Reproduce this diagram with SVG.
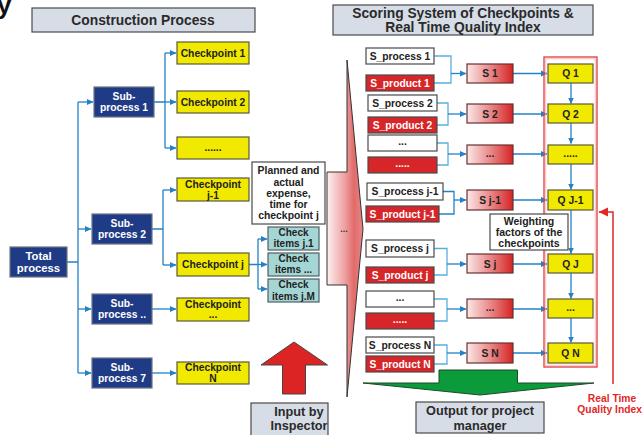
<svg xmlns="http://www.w3.org/2000/svg" width="643" height="435" viewBox="0 0 643 435">
<style>
text{font-family:"Liberation Sans",Arial,sans-serif;font-weight:bold;text-anchor:middle}
.hdr{fill:#d6dde6;stroke:#4a4a4a;stroke-width:1.2}
.hdrt{font-size:13.8px;fill:#2a2a2a}
.navy{fill:#1f3b86;stroke:#6b7480;stroke-width:1.2}
.navyt{font-size:10.3px;fill:#ffffff}
.yel{fill:#f1e900;stroke:#5a5a3a;stroke-width:1.2}
.yelt{font-size:10.3px;fill:#222}
.teal{fill:#a5d6d6;stroke:#4f5f66;stroke-width:1.2}
.tealt{font-size:10px;fill:#222}
.wht{fill:#ffffff;stroke:#4a4a4a;stroke-width:1.2}
.whtt{font-size:10.3px;fill:#222}
.red{fill:#d7262a;stroke:#4a4a4a;stroke-width:1.2}
.redt{font-size:10.3px;fill:#ffffff}
.sbox{fill:url(#sg);stroke:#6a3030;stroke-width:1.2}
.line{fill:none;stroke:#2481c6;stroke-width:1.3}
.brk{fill:none;stroke:#5aaee0;stroke-width:1.3}
.arr{fill:none;stroke:#2481c6;stroke-width:1.3;marker-end:url(#ab)}
</style>
<defs>
<marker id="ab" markerUnits="userSpaceOnUse" markerWidth="7" markerHeight="7" refX="6" refY="3.5" orient="auto"><path d="M0,0.5 L6.5,3.5 L0,6.5 Z" fill="#2481c6"/></marker>
<marker id="ar" markerUnits="userSpaceOnUse" markerWidth="10" markerHeight="10" refX="9" refY="5" orient="auto"><path d="M0,0.5 L9.5,5 L0,9.5 Z" fill="#e02828"/></marker>
<linearGradient id="sg" x1="0" y1="0" x2="1" y2="0"><stop offset="0" stop-color="#fbe8e8"/><stop offset="0.55" stop-color="#e88080"/><stop offset="1" stop-color="#d42424"/></linearGradient>
<linearGradient id="fg" x1="327" y1="0" x2="363" y2="0" gradientUnits="userSpaceOnUse"><stop offset="0" stop-color="#fdf0f0"/><stop offset="0.5" stop-color="#eea0a0"/><stop offset="0.75" stop-color="#e26a6a"/><stop offset="1" stop-color="#e88888"/></linearGradient>
</defs>

<text x="-3" y="14" style="font-size:26px;fill:#111;text-anchor:start">y</text>

<g id="hdr-construction"><rect class="hdr" x="32" y="8" width="223" height="24"/><text class="hdrt" x="143" y="24.5">Construction Process</text></g>
<g id="hdr-scoring"><rect class="hdr" x="333" y="5" width="260" height="30"/><text class="hdrt" x="463" y="17.5">Scoring System of Checkpoints &amp;</text><text class="hdrt" x="463" y="32">Real Time Quality Index</text></g>

<g id="connectors">
<path class="line" d="M67,262 H78 M78,102 V373"/>
<path class="arr" d="M78,102 H93"/>
<path class="arr" d="M78,229 H91"/>
<path class="arr" d="M78,309 H91"/>
<path class="arr" d="M78,373 H91"/>
<path class="line" d="M154,102 H165 M165,53 V148"/>
<path class="arr" d="M165,53 H176"/>
<path class="arr" d="M165,102 H176"/>
<path class="arr" d="M165,148 H176"/>
<path class="line" d="M152,229 H163 M163,190 V265"/>
<path class="arr" d="M163,190 H176"/>
<path class="arr" d="M163,265 H176"/>
<path class="arr" d="M152,309 H176"/>
<path class="arr" d="M152,373 H176"/>
<path class="line" d="M249,264.5 H258 M258,239 V289"/>
<path class="arr" d="M258,239 H267"/>
<path class="arr" d="M258,264.5 H267"/>
<path class="arr" d="M258,289 H267"/>

<path class="brk" d="M434,56 H451 V83 H434"/>
<path class="arr" d="M451,73.5 H466"/>
<path class="brk" d="M437,103 H448 V125 H437"/>
<path class="arr" d="M448,114 H466"/>
<path class="brk" d="M437,143 H448 V165 H437"/>
<path class="arr" d="M448,154 H466"/>
<path class="line" d="M443,191.5 H454 V214 H439"/>
<path class="arr" d="M454,200 H466"/>
<path class="brk" d="M434,248.5 H447 V275 H434"/>
<path class="arr" d="M447,264 H466"/>
<path class="brk" d="M434,299 H447 V321 H434"/>
<path class="arr" d="M447,309 H466"/>
<path class="brk" d="M434,345 H447 V364 H434"/>
<path class="arr" d="M447,353 H466"/>

<path class="arr" d="M513,73.5 H547"/>
<path class="arr" d="M513,114 H547"/>
<path class="arr" d="M513,154 H547"/>
<path class="arr" d="M513,200 H547"/>
<path class="arr" d="M513,264 H547"/>
<path class="arr" d="M513,309 H547"/>
<path class="arr" d="M513,353 H547"/>

<path class="arr" d="M571,83 V103.5"/>
<path class="arr" d="M571,123 V143.5"/>
<path class="arr" d="M571,164 V189.5"/>
<path class="arr" d="M571,210 V253.5"/>
<path class="arr" d="M571,273 V298.5"/>
<path class="arr" d="M571,318 V342.5"/>

<path d="M613,384 V212 H599" fill="none" stroke="#e02828" stroke-width="1.5" marker-end="url(#ar)"/>
</g>

<g id="funnel"><path d="M327,172 H347 V60 L363,229 L347,397 V285 H327 Z" fill="url(#fg)" stroke="#333" stroke-width="1"/><text x="344" y="232" style="font-size:9px;fill:#333">...</text></g>

<g id="q-frame"><rect x="544" y="57" width="53" height="310" fill="none" stroke="#e03a3a" stroke-width="1.3"/><rect x="545.8" y="58.8" width="49.4" height="306.4" fill="none" stroke="#f4b0b0" stroke-width="0.8"/></g>

<g id="total"><rect class="navy" x="10" y="247" width="57" height="30"/><text class="navyt" style="font-size:11.3px" x="38.5" y="259.5">Total</text><text class="navyt" style="font-size:11.3px" x="38.5" y="271.5">process</text></g>
<g id="sub1"><rect class="navy" x="94" y="87" width="60" height="30"/><text class="navyt" x="124" y="99.5">Sub-</text><text class="navyt" x="124" y="111">process 1</text></g>
<g id="sub2"><rect class="navy" x="92" y="214" width="60" height="30"/><text class="navyt" x="122" y="226.5">Sub-</text><text class="navyt" x="122" y="238">process 2</text></g>
<g id="subdots"><rect class="navy" x="92" y="294" width="60" height="30"/><text class="navyt" x="122" y="306.5">Sub-</text><text class="navyt" x="122" y="318">process ..</text></g>
<g id="sub7"><rect class="navy" x="92" y="358" width="60" height="30"/><text class="navyt" x="122" y="370.5">Sub-</text><text class="navyt" x="122" y="382">process 7</text></g>

<g id="cp1"><rect class="yel" x="177" y="42" width="72" height="22"/><text class="yelt" x="213" y="56.5">Checkpoint 1</text></g>
<g id="cp2"><rect class="yel" x="177" y="91" width="72" height="22"/><text class="yelt" x="213" y="105.5">Checkpoint 2</text></g>
<g id="cpdots"><rect class="yel" x="177" y="137" width="72" height="22"/><text class="yelt" x="213" y="151">......</text></g>
<g id="cpj1"><rect class="yel" x="177" y="178" width="72" height="23"/><text class="yelt" x="213" y="187.5">Checkpoint</text><text class="yelt" x="213" y="198.5">j-1</text></g>
<g id="cpj"><rect class="yel" x="177" y="253" width="72" height="23"/><text class="yelt" x="213" y="268">Checkpoint j</text></g>
<g id="cpdots2"><rect class="yel" x="177" y="298" width="72" height="23"/><text class="yelt" x="213" y="307.5">Checkpoint</text><text class="yelt" x="213" y="318">...</text></g>
<g id="cpN"><rect class="yel" x="177" y="362" width="72" height="22"/><text class="yelt" x="213" y="371">Checkpoint</text><text class="yelt" x="213" y="382">N</text></g>

<g id="planned"><rect class="wht" x="252" y="162" width="73" height="62"/>
<text class="whtt" style="font-size:10.4px" x="288.5" y="173.7">Planned and</text>
<text class="whtt" style="font-size:10.4px" x="288.5" y="185.5">actual</text>
<text class="whtt" style="font-size:10.4px" x="288.5" y="197">expense,</text>
<text class="whtt" style="font-size:10.4px" x="288.5" y="208">time for</text>
<text class="whtt" style="font-size:10.4px" x="288.5" y="219.4">checkpoint j</text></g>

<g id="ci1"><rect class="teal" x="268" y="227" width="51" height="23"/><text class="tealt" x="293.5" y="236">Check</text><text class="tealt" x="293.5" y="247">items j.1</text></g>
<g id="ci2"><rect class="teal" x="268" y="253" width="51" height="23"/><text class="tealt" x="293.5" y="262">Check</text><text class="tealt" x="293.5" y="273">items ...</text></g>
<g id="ci3"><rect class="teal" x="268" y="279" width="51" height="23"/><text class="tealt" x="293.5" y="288">Check</text><text class="tealt" x="293.5" y="299.5">items j.M</text></g>

<g id="input-arrow"><path d="M294,342 L327.5,365 H305.5 V394 H282.5 V365 H261 Z" fill="#dc2424" stroke="#444" stroke-width="1"/></g>
<g id="input"><rect class="hdr" x="251" y="403" width="77" height="34"/><text class="hdrt" style="font-size:12.7px" x="299" y="416">Input by</text><text class="hdrt" style="font-size:12.7px" x="299" y="429.5">Inspector</text></g>

<g id="sp1"><rect class="wht" x="366" y="48" width="68" height="16"/><text class="whtt" x="400" y="59.6">S_process 1</text></g>
<g id="sd1"><rect class="red" x="366" y="75" width="68" height="16"/><text class="redt" x="400" y="86.6">S_product 1</text></g>
<g id="sp2"><rect class="wht" x="368" y="95" width="69" height="16"/><text class="whtt" x="402.5" y="106.6">S_process 2</text></g>
<g id="sd2"><rect class="red" x="368" y="117" width="69" height="16"/><text class="redt" x="402.5" y="128.6">S_product 2</text></g>
<g id="sp3"><rect class="wht" x="368" y="135" width="69" height="16"/><text class="whtt" x="402.5" y="145">...</text></g>
<g id="sd3"><rect class="red" x="368" y="157" width="69" height="16"/><text class="redt" x="402.5" y="167">.....</text></g>
<g id="sp4"><rect class="wht" x="367" y="183" width="76" height="17"/><text class="whtt" x="405" y="195.2">S_process j-1</text></g>
<g id="sd4"><rect class="red" x="366" y="206" width="73" height="16"/><text class="redt" x="402.5" y="217.6">S_product j-1</text></g>
<g id="sp5"><rect class="wht" x="366" y="240" width="68" height="17"/><text class="whtt" x="400" y="252.2">S_process j</text></g>
<g id="sd5"><rect class="red" x="366" y="267" width="68" height="16"/><text class="redt" x="400" y="278.6">S_product j</text></g>
<g id="sp6"><rect class="wht" x="366" y="291" width="68" height="16"/><text class="whtt" x="400" y="301">...</text></g>
<g id="sd6"><rect class="red" x="366" y="313" width="68" height="16"/><text class="redt" x="400" y="323">.....</text></g>
<g id="sp7"><rect class="wht" x="366" y="337" width="68" height="16"/><text class="whtt" x="400" y="348.6">S_process N</text></g>
<g id="sd7"><rect class="red" x="366" y="356" width="68" height="16"/><text class="redt" x="400" y="367.6">S_product N</text></g>

<g id="s1"><rect class="sbox" x="467" y="64" width="46" height="19"/><text class="whtt" x="490" y="77.2">S 1</text></g>
<g id="s2"><rect class="sbox" x="467" y="104" width="46" height="19"/><text class="whtt" x="490" y="117.5">S 2</text></g>
<g id="s3"><rect class="sbox" x="467" y="145" width="46" height="19"/><text class="whtt" x="490" y="157">...</text></g>
<g id="s4"><rect class="sbox" x="467" y="190" width="46" height="20"/><text class="whtt" x="490" y="203.5">S j-1</text></g>
<g id="s5"><rect class="sbox" x="467" y="254" width="46" height="19"/><text class="whtt" x="490" y="267.5">S j</text></g>
<g id="s6"><rect class="sbox" x="467" y="299" width="46" height="19"/><text class="whtt" x="490" y="311">...</text></g>
<g id="s7"><rect class="sbox" x="467" y="343" width="46" height="20"/><text class="whtt" x="490" y="356.7">S N</text></g>

<g id="q1"><rect class="yel" x="548" y="64" width="45" height="19"/><text class="yelt" x="570.5" y="77.2">Q 1</text></g>
<g id="q2"><rect class="yel" x="548" y="104" width="45" height="19"/><text class="yelt" x="570.5" y="117.5">Q 2</text></g>
<g id="q3"><rect class="yel" x="548" y="145" width="45" height="19"/><text class="yelt" x="570.5" y="157">.....</text></g>
<g id="q4"><rect class="yel" x="548" y="190" width="45" height="20"/><text class="yelt" x="570.5" y="203.5">Q J-1</text></g>
<g id="q5"><rect class="yel" x="548" y="254" width="45" height="19"/><text class="yelt" x="570.5" y="267.5">Q J</text></g>
<g id="q6"><rect class="yel" x="548" y="299" width="45" height="19"/><text class="yelt" x="570.5" y="311">...</text></g>
<g id="q7"><rect class="yel" x="548" y="343" width="45" height="20"/><text class="yelt" x="570.5" y="356.7">Q N</text></g>

<g id="weighting"><rect class="wht" x="490" y="214" width="78" height="36"/><text class="whtt" style="font-size:10.5px" x="529" y="224.7">Weighting</text><text class="whtt" style="font-size:10.5px" x="529" y="235.5">factors of the</text><text class="whtt" style="font-size:10.5px" x="529" y="247">checkpoints</text></g>

<g id="output-arrow"><path d="M439,370 H517.5 V383 H594 L480,395 L363,383 H439 Z" fill="#0c9b3a" stroke="#1d4a28" stroke-width="1"/></g>
<g id="output"><rect class="hdr" x="416" y="402" width="128" height="31"/><text class="hdrt" style="font-size:12.7px" x="480" y="415">Output for project</text><text class="hdrt" style="font-size:12.7px" x="480" y="429.5">manager</text></g>

<g id="rtqi"><text x="612" y="401.5" style="font-size:10.3px;fill:#e02828">Real Time</text><text x="642" y="412.5" style="font-size:10.3px;fill:#e02828;text-anchor:end">Quality Index</text></g>
</svg>
